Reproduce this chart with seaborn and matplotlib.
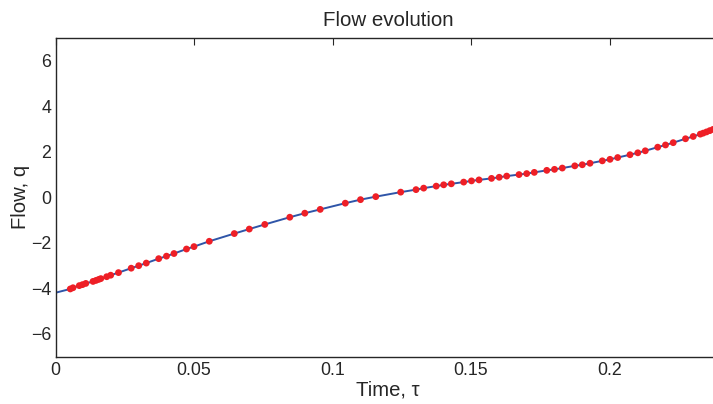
import numpy as np
import pandas as pd
import matplotlib
matplotlib.use("Agg")
import matplotlib.pyplot as plt
import seaborn as sns

# Sampled solution nodes (time, flow)
tau = [0.00534, 0.00632, 0.00859, 0.00975, 0.01094, 0.01354, 0.01462, 0.01560,
       0.01635, 0.01848, 0.01993, 0.02274, 0.02733, 0.03004, 0.03278, 0.03726,
       0.04007, 0.04278, 0.04729, 0.05000, 0.05552, 0.06455, 0.06996, 0.07556,
       0.08458, 0.09000, 0.09556, 0.10462, 0.11011, 0.11563, 0.12462, 0.13015,
       0.13292, 0.13744, 0.14014, 0.14289, 0.14736, 0.15018, 0.15289, 0.15740,
       0.16018, 0.16289, 0.16733, 0.17011, 0.17285, 0.17736, 0.18014, 0.18296,
       0.18747, 0.19018, 0.19296, 0.19740, 0.20018, 0.20296, 0.20740, 0.21022,
       0.21292, 0.21740, 0.22022, 0.22300, 0.22744, 0.23022, 0.23278, 0.23383,
       0.23502, 0.23621, 0.23736, 0.23850]
flow = [-4.024, -3.971, -3.878, -3.834, -3.781, -3.693, -3.649, -3.605,
        -3.570, -3.486, -3.420, -3.306, -3.112, -3.002, -2.887, -2.693,
        -2.583, -2.468, -2.270, -2.164, -1.930, -1.591, -1.393, -1.190,
        -0.873, -0.696, -0.529, -0.256, -0.101, 0.031, 0.229, 0.339,
        0.405, 0.493, 0.551, 0.595, 0.670, 0.723, 0.767, 0.833,
        0.882, 0.934, 1.000, 1.044, 1.097, 1.186, 1.230, 1.287,
        1.384, 1.432, 1.498, 1.604, 1.670, 1.749, 1.873, 1.957,
        2.045, 2.204, 2.301, 2.402, 2.574, 2.675, 2.777, 2.821,
        2.874, 2.931, 2.984, 3.035]

# Continuous curve starts at the initial condition
tau_line = [0.0] + tau
flow_line = [-4.19] + flow

x_ticks = [0, 0.05, 0.1, 0.15, 0.2]
x_tick_labels = ["0", "0.05", "0.1", "0.15", "0.2"]
y_ticks = [-6, -4, -2, 0, 2, 4, 6]
y_tick_labels = ["\u22126", "\u22124", "\u22122", "0", "2", "4", "6"]

sns.set_style("white")
plt.rcParams["font.family"] = ["Liberation Sans", "DejaVu Sans"]
plt.rcParams["axes.unicode_minus"] = True

txt = "#262626"
fig = plt.figure(figsize=(7.13, 4.04), dpi=100)
ax = fig.add_axes([55.5 / 713, 1 - 356.7 / 404, (720.3 - 55.5) / 713, (356.7 - 38) / 404])

df_line = pd.DataFrame({"t": tau_line, "q": flow_line})
df_pts = pd.DataFrame({"t": tau, "q": flow})
sns.lineplot(data=df_line, x="t", y="q", ax=ax, color="#2f55a8", linewidth=1.4,
             sort=False, estimator=None)
sns.scatterplot(data=df_pts, x="t", y="q", ax=ax, color="#ee1f26", s=24,
                edgecolor="none", zorder=3)

ax.set_xlim(0, 0.24)
ax.set_ylim(-7, 7)
ax.set_xticks(x_ticks)
ax.set_xticklabels(x_tick_labels)
ax.set_yticks(y_ticks)
ax.set_yticklabels(y_tick_labels)

ax.tick_params(axis="both", direction="in", length=5, width=0.8, colors=txt,
               labelsize=12.8, top=True, right=True)
ax.tick_params(axis="x", pad=4)
ax.tick_params(axis="y", pad=3)
for s in ax.spines.values():
    s.set_color(txt)
    s.set_linewidth(1.0)

ax.set_xlabel("Time, \u03c4", fontsize=14.6, color=txt, labelpad=1)
ax.set_ylabel("Flow, q", fontsize=14.6, color=txt, labelpad=1)
ax.set_title("Flow evolution", fontsize=14.8, color=txt, pad=9)

fig.savefig("out.png", dpi=100)
